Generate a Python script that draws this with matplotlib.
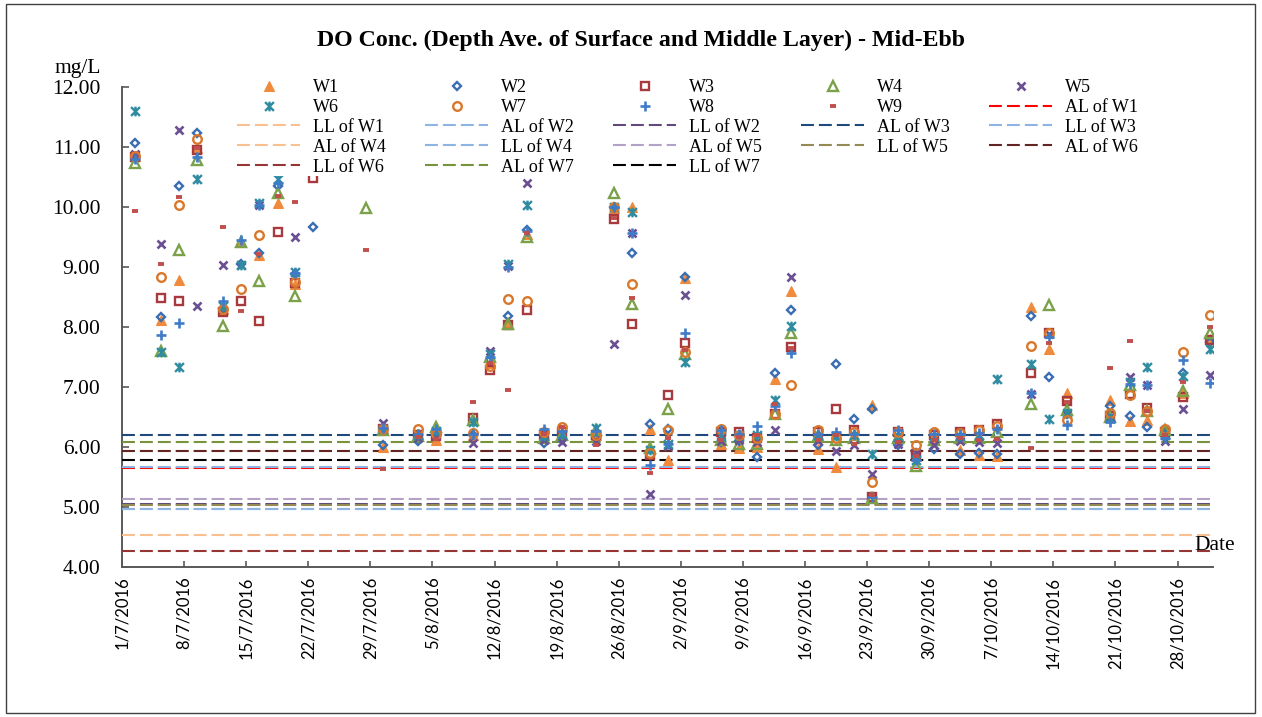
import numpy as np
import pandas as pd
import matplotlib
matplotlib.use("Agg")
import matplotlib.pyplot as plt
import matplotlib.dates as mdates
from matplotlib.path import Path
from matplotlib.patches import Rectangle

# ---------------- data ----------------
dates = ["2016-07-02 10:00", "2016-07-05 09:00", "2016-07-07 10:30", "2016-07-09 10:00",
         "2016-07-12 08:00", "2016-07-14 09:30", "2016-07-16 11:00", "2016-07-18 12:45",
         "2016-07-20 12:45", "2016-07-22 11:45", "2016-07-28 13:15", "2016-07-30 09:20",
         "2016-08-03 10:00", "2016-08-05 10:50", "2016-08-09 12:30", "2016-08-11 10:30",
         "2016-08-13 11:15", "2016-08-15 14:40", "2016-08-17 12:45", "2016-08-19 13:40",
         "2016-08-23 09:40", "2016-08-25 11:15", "2016-08-27 12:00", "2016-08-29 12:00",
         "2016-08-31 12:00", "2016-09-02 10:50", "2016-09-06 12:30", "2016-09-08 13:10",
         "2016-09-10 13:10", "2016-09-12 14:40", "2016-09-14 09:10", "2016-09-17 10:20",
         "2016-09-19 11:00", "2016-09-21 12:45", "2016-09-23 12:45", "2016-09-26 13:00",
         "2016-09-28 12:45", "2016-09-30 13:40", "2016-10-03 12:00", "2016-10-05 13:40",
         "2016-10-07 15:35", "2016-10-11 12:00", "2016-10-13 13:10", "2016-10-15 13:10",
         "2016-10-20 10:30", "2016-10-22 14:50", "2016-10-24 14:00", "2016-10-26 13:40",
         "2016-10-28 14:25", "2016-10-31 15:35"]

W1 = [10.85, 8.12, 8.79, 10.98, 8.30, 9.42, 9.20, 10.07, 8.72, 10.90,
      10.90, 6.00, 6.22, 6.12, 6.20, 7.40, 8.05, 9.55, 6.20, 6.20,
      6.20, 9.98, 10.00, 6.30, 5.78, 8.82, 6.05, 5.98, 6.00, 7.13,
      8.60, 5.97, 5.67, 6.20, 6.70, 6.20, 5.85, 6.15, 5.95, 5.86,
      5.85, 8.34, 7.63, 6.90, 6.78, 6.43, 6.45, 6.28, 6.90, 7.80]
W2 = [11.06, 8.16, 10.35, 11.23, 8.30, 9.05, 9.23, 10.35, 8.88, 9.66,
      10.95, 6.03, 6.10, 6.25, 6.20, 7.45, 8.18, 9.62, 6.07, 6.12,
      6.15, 10.00, 9.23, 6.38, 6.30, 8.84, 6.08, 6.10, 5.83, 7.24,
      8.28, 6.03, 7.38, 6.47, 6.64, 6.03, 5.90, 5.97, 5.89, 5.90,
      5.88, 8.18, 7.16, 6.55, 6.68, 6.52, 6.34, 6.22, 7.24, 7.75]
W3 = [10.83, 8.49, 8.44, 10.95, 8.25, 8.44, 8.10, 9.59, 8.73, 10.48,
      10.90, 6.30, 6.20, 6.18, 6.48, 7.28, 8.03, 8.28, 6.20, 6.25,
      6.20, 9.80, 8.05, 5.87, 6.86, 7.73, 6.25, 6.25, 6.15, 6.55,
      7.67, 6.25, 6.64, 6.28, 5.17, 6.25, 5.88, 6.20, 6.25, 6.28,
      6.38, 7.24, 7.90, 6.77, 6.52, 6.88, 6.65, 6.25, 6.84, 7.78]
W4 = [10.74, 7.60, 9.29, 10.78, 8.02, 9.42, 8.77, 10.23, 8.52, 10.95,
      9.99, 6.28, 6.18, 6.33, 6.45, 7.50, 8.05, 9.50, 6.15, 6.20,
      6.28, 10.24, 8.38, 5.98, 6.63, 7.55, 6.12, 6.05, 6.05, 6.55,
      7.90, 6.18, 6.12, 6.15, 5.15, 6.15, 5.68, 6.12, 6.15, 6.15,
      6.25, 6.72, 8.37, 6.62, 6.50, 7.03, 6.60, 6.28, 6.94, 7.90]
W5 = [10.88, 9.38, 11.28, 8.35, 9.03, 9.03, 10.04, 10.90, 9.50, 10.90,
      10.90, 6.40, 6.15, 6.20, 6.06, 7.60, 9.02, 10.40, 6.12, 6.08,
      6.10, 7.71, 9.57, 5.22, 6.02, 8.53, 6.10, 6.12, 6.08, 6.28,
      8.84, 6.10, 5.94, 6.03, 5.55, 6.05, 5.92, 6.03, 6.10, 6.08,
      6.07, 6.88, 7.88, 6.55, 6.50, 7.17, 7.03, 6.10, 6.64, 7.20]
W6 = [11.60, 7.58, 7.33, 10.47, 8.35, 9.03, 10.06, 10.46, 8.92, 11.00,
      11.00, 6.30, 6.20, 6.26, 6.42, 7.55, 9.05, 10.03, 6.18, 6.22,
      6.31, 10.00, 9.92, 5.95, 6.05, 7.42, 6.18, 6.20, 6.20, 6.78,
      8.02, 6.20, 6.18, 6.20, 5.89, 6.18, 5.78, 6.18, 6.18, 6.20,
      7.13, 7.39, 6.46, 6.57, 6.48, 7.08, 7.34, 6.20, 7.18, 7.64]
W7 = [10.85, 8.84, 10.03, 11.13, 8.30, 8.63, 9.53, 10.90, 8.75, 10.95,
      10.95, 6.30, 6.30, 6.22, 6.24, 7.35, 8.46, 8.43, 6.25, 6.33,
      6.20, 10.00, 8.71, 5.90, 6.28, 7.58, 6.30, 6.20, 6.15, 6.55,
      7.03, 6.28, 6.15, 6.25, 5.41, 6.25, 6.03, 6.25, 6.24, 6.28,
      6.35, 7.68, 7.90, 6.45, 6.56, 6.86, 6.60, 6.30, 7.59, 8.20]
W8 = [10.80, 7.87, 8.06, 10.83, 8.44, 9.45, 10.03, 10.40, 8.90, 10.95,
      10.90, 6.32, 6.22, 6.30, 6.22, 7.50, 9.00, 9.60, 6.30, 6.27,
      6.26, 10.00, 9.57, 5.70, 6.05, 7.90, 6.28, 6.22, 6.35, 6.68,
      7.57, 6.22, 6.25, 6.22, 5.17, 6.28, 5.78, 6.22, 6.22, 6.24,
      6.30, 6.90, 7.83, 6.37, 6.42, 7.05, 7.03, 6.15, 7.45, 7.07]
W9 = [9.94, 9.05, 10.16, 10.98, 9.67, 8.26, 9.22, 10.19, 10.09, 10.90,
      9.28, 5.63, 6.17, 6.13, 6.75, 7.40, 6.95, 9.56, 6.22, 6.33,
      6.03, 9.82, 8.49, 5.56, 6.15, 7.62, 6.12, 6.17, 6.20, 6.72,
      7.65, 6.12, 6.20, 6.05, 5.20, 6.08, 5.85, 6.12, 6.15, 6.12,
      6.14, 5.99, 7.73, 6.75, 7.32, 7.77, 6.60, 6.20, 7.09, 8.00]

station_names = ["W1", "W2", "W3", "W4", "W5", "W6", "W7", "W8", "W9"]
station_values = [W1, W2, W3, W4, W5, W6, W7, W8, W9]

limit_names = ["AL of W1", "LL of W1", "AL of W2", "LL of W2", "AL of W3", "LL of W3",
               "AL of W4", "LL of W4", "AL of W5", "LL of W5", "AL of W6", "LL of W6",
               "AL of W7", "LL of W7"]
limit_values = [5.65, 4.54, 5.67, 5.05, 6.20, 4.96,
                5.94, 4.96, 5.14, 5.03, 5.94, 4.27,
                6.08, 5.78]

tick_labels = ["1/7/2016", "8/7/2016", "15/7/2016", "22/7/2016", "29/7/2016", "5/8/2016",
               "12/8/2016", "19/8/2016", "26/8/2016", "2/9/2016", "9/9/2016", "16/9/2016",
               "23/9/2016", "30/9/2016", "7/10/2016", "14/10/2016", "21/10/2016", "28/10/2016"]
y_ticks = [4, 5, 6, 7, 8, 9, 10, 11, 12]

# ---------------- styles ----------------
star_path = Path([(-1, -1), (1, 1), (-1, 1), (1, -1), (0, -1.1), (0, 1.1)],
                 [Path.MOVETO, Path.LINETO, Path.MOVETO, Path.LINETO, Path.MOVETO, Path.LINETO])

station_styles = [
    dict(marker="^", ms=7.2, mfc="#F08A3C", mec="#F08A3C", mew=0.8),
    dict(marker="D", ms=4.5, mfc="none", mec="#3A6EB2", mew=1.7),
    dict(marker="s", ms=6.0, mfc="none", mec="#A8393C", mew=1.7),
    dict(marker="^", ms=6.6, mfc="none", mec="#7BA24A", mew=1.7),
    dict(marker="x", ms=6.0, mfc="none", mec="#6A4F93", mew=1.9),
    dict(marker=star_path, ms=7.0, mfc="none", mec="#2F8CA0", mew=1.7),
    dict(marker="o", ms=6.2, mfc="none", mec="#D9782C", mew=1.7),
    dict(marker="+", ms=7.0, mfc="none", mec="#3F7BC8", mew=1.9),
    dict(marker="_", ms=4.8, mfc="none", mec="#C0504D", mew=2.8),
]
limit_colors = ["#FF0000", "#FAC08F", "#8DB4E2", "#604A7B", "#1F497D", "#8DB4E2",
                "#FAC090", "#8DB4E2", "#B3A2C7", "#948A54", "#632523", "#963634",
                "#77933C", "#000000"]

serif = ["Liberation Serif", "DejaVu Serif"]

# ---------------- figure ----------------
W, H = 1262, 717
fig = plt.figure(figsize=(W / 100, H / 100), dpi=100)
fig.patch.set_facecolor("white")
fig.add_artist(Rectangle((6 / W, 4 / H), 1249 / W, 709 / H, transform=fig.transFigure,
                         fill=False, edgecolor="#404040", linewidth=1.0))

ax = fig.add_axes([122 / W, 1 - 567 / H, (1213 - 122) / W, (567 - 87) / H])

x = mdates.date2num(pd.to_datetime(dates))
xmin = mdates.date2num(pd.Timestamp("2016-07-01"))
xmax = mdates.date2num(pd.Timestamp("2016-11-01"))

handles = []
for name, vals, st in zip(station_names, station_values, station_styles):
    h, = ax.plot(x, vals, linestyle="none", label=name, zorder=4, **st)
    handles.append(h)

for name, val, col in zip(limit_names, limit_values, limit_colors):
    h, = ax.plot([xmin, xmax], [val, val], color=col, lw=1.5, dashes=(6.2, 2.4),
                 label=name, zorder=3)
    handles.append(h)

ax.set_xlim(xmin, xmax)
ax.set_ylim(4, 12)
ax.set_yticks(y_ticks)
ax.set_yticklabels([f"{v:.2f}" for v in y_ticks], fontfamily=serif, fontsize=15.5)
tick_pos = mdates.date2num(pd.to_datetime(tick_labels, format="%d/%m/%Y"))
ax.set_xticks(tick_pos)
ax.set_xticklabels(tick_labels, rotation=90, fontfamily="Lato", fontsize=12)

for s in ["top", "right"]:
    ax.spines[s].set_visible(False)
for s in ["left", "bottom"]:
    ax.spines[s].set_color("#595959")
    ax.spines[s].set_linewidth(1.4)
ax.tick_params(axis="y", direction="in", length=5, width=1.2, color="#595959", pad=15.5)
ax.tick_params(axis="x", direction="in", length=4.5, width=1.2, color="#595959", pad=7)

# legend (row-major order in 5 columns)
ncol = 5
order = []
for c in range(ncol):
    for r in range(5):
        i = r * ncol + c
        if i < len(handles):
            order.append(i)
leg = ax.legend([handles[i] for i in order], [handles[i].get_label() for i in order],
                ncol=ncol, loc="upper left", bbox_to_anchor=(237 / W, 1 - 79 / H),
                bbox_transform=fig.transFigure, frameon=True, fancybox=False,
                facecolor="white", edgecolor="none", framealpha=1.0, borderpad=0.0,
                prop={"family": serif, "size": 13}, handlelength=3.5, handletextpad=0.72,
                columnspacing=2.16, labelspacing=0.16, numpoints=1, borderaxespad=0)
leg.set_zorder(10)

fig.text(641 / W, 1 - 40 / H, "DO Conc. (Depth Ave. of Surface and Middle Layer) - Mid-Ebb",
         ha="center", va="center", fontfamily=serif, fontsize=17.2, fontweight="bold")
fig.text(78 / W, 1 - 68 / H, "mg/L", ha="center", va="center", fontfamily=serif, fontsize=15.5)
fig.text(1194 / W, 1 - 545 / H, "Date", ha="left", va="center", fontfamily=serif, fontsize=15.5)

fig.savefig("out.png", dpi=100, facecolor="white")
